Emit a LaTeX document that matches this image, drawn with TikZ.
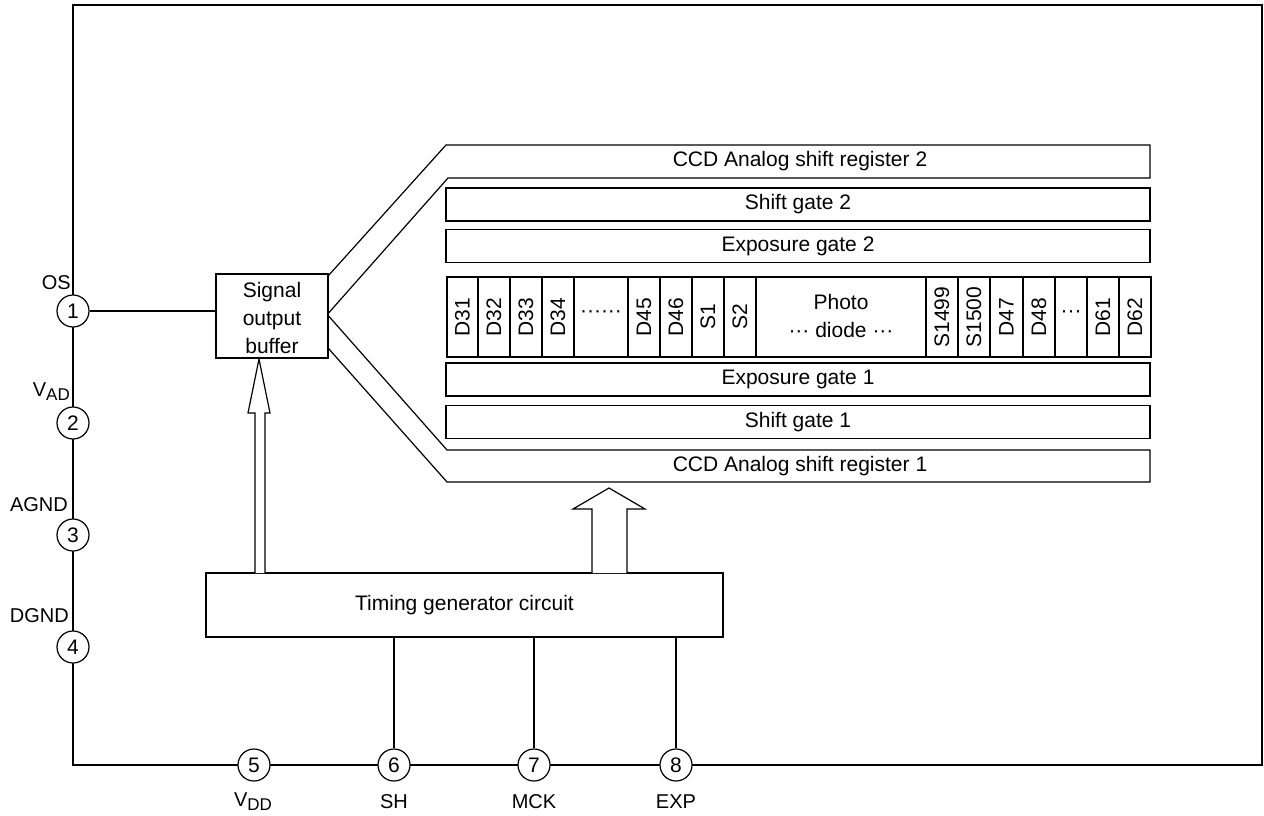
\documentclass[tikz,border=0pt]{standalone}
\usepackage{fontspec}
\setmainfont{Liberation Sans}
\usetikzlibrary{positioning, calc}

\tikzset{
  base/.style={line width=1.2pt},
  frame/.style={line width=2.4pt},
  blockbox/.style={draw, base, inner sep=0pt, align=center,
    font=\fontsize{21}{29}\selectfont},
  gatebox/.style={blockbox, minimum width=704pt, minimum height=33pt},
  regtext/.style={inner sep=0pt, font=\fontsize{21}{21}\selectfont},
  celltext/.style={rotate=90, inner sep=0pt, font=\fontsize{21}{21}\selectfont},
  pin/.style={circle, draw, base, fill=white, minimum size=32pt,
    inner sep=0pt, font=\fontsize{21}{21}\selectfont},
  pinlabel/.style={inner sep=0pt, font=\fontsize{20}{20}\selectfont},
  hollow/.style={base, fill=white},
}
\newcommand{\subtxt}[1]{\raisebox{-4pt}{\fontsize{17}{17}\selectfont #1}}

\begin{document}
\begin{tikzpicture}[x=1pt, y=-1pt]
\useasboundingbox (0,0) rectangle (1264,816);

% package outline
\draw[frame] (73,5) rectangle (1262,765);

% output buffer and timing circuit
\node[blockbox, minimum width=112pt, minimum height=84pt,
  label={[yshift=-2pt, align=center, font=\fontsize{21}{28}\selectfont]center:Signal\\output\\buffer}]
  (buf) at (272,316) {};
\node[blockbox, minimum width=517pt, minimum height=64pt] (timing) at (464.5,605)
  {Timing generator circuit};

% shift registers
\draw[base] ($(buf.north east)+(0,2)$) -- (446,145) -- (1150,145) -- (1150,178)
  -- (448,178) -- ($(buf.east)+(0,-3)$);
\draw[base] ($(buf.east)+(0,0)$) -- (447,450) -- (1150,450) -- (1150,482)
  -- (447,482) -- ($(buf.south east)+(0,-10)$);
\node[regtext] (reg2) at (800,161.5) {CCD Analog shift register 2};
\node[regtext] (reg1) at (800,466) {CCD Analog shift register 1};

% gates
\node[gatebox] (sg2) at (798,204.5) {Shift gate 2};
\node[gatebox] (eg2) at (798,246) {Exposure gate 2};
\node[gatebox] (eg1) at (798,379.5) {Exposure gate 1};
\node[gatebox] (sg1) at (798,422) {Shift gate 1};

% photodiode row
\draw[base] (447,277) rectangle (1151,357);
\foreach \xa/\xb/\txt in {447/478/D31, 478/510/D32, 510/542/D33, 542/574/D34,
    628/660/D45, 660/692/D46, 692/724/S1, 724/756/S2, 926/958/S1499,
    958/990/S1500, 990/1023/D47, 1023/1055/D48, 1087/1119/D61, 1119/1151/D62}
{
  \draw[base] (\xa,277) rectangle (\xb,357);
  \node[celltext] (c\txt) at ({(\xa+\xb)/2},317) {\txt};
}
\draw[base] (574,277) rectangle (628,357);
\node[celltext, rotate=-90] (cdots1) at (601,314) {······};
\draw[base] (1055,277) rectangle (1087,357);
\node[celltext, rotate=-90] (cdots2) at (1071,314) {···};
\node[align=center, font=\fontsize{21}{28}\selectfont] (photo) at (841,316)
  {Photo\\··· diode ···};

% clock arrows
\draw[hollow] (255,573) |- (248,413) -- (259,359) -- (270,413) -| (265,573);
\draw[hollow] (592,573) |- (573,509) -- (609,488) -- (645,509) -| (627,573);

% pins
\foreach \i/\y in {1/311, 2/423, 3/535, 4/647}
  \node[pin] (p\i) at (73,\y) {\i};
\foreach \i/\x in {5/254, 6/394, 7/534, 8/676}
  \node[pin] (p\i) at (\x,765) {\i};

\draw[base] (p1) -- (p1 -| buf.west);
\foreach \i in {6,7,8}
  \draw[base] (p\i) -- (p\i |- timing.south);

% pin names
\node[pinlabel, anchor=east] (l1) at (71,283) {OS};
\node[pinlabel, anchor=east] (l2) at (70,392) {V\subtxt{AD}};
\node[pinlabel, anchor=east] (l3) at (68,505) {AGND};
\node[pinlabel, anchor=east] (l4) at (69,616) {DGND};
\node[pinlabel] (l5) at (253,802) {V\subtxt{DD}};
\node[pinlabel] (l6) at (394,802) {SH};
\node[pinlabel] (l7) at (534,802) {MCK};
\node[pinlabel] (l8) at (676,802) {EXP};
\end{tikzpicture}
\end{document}
